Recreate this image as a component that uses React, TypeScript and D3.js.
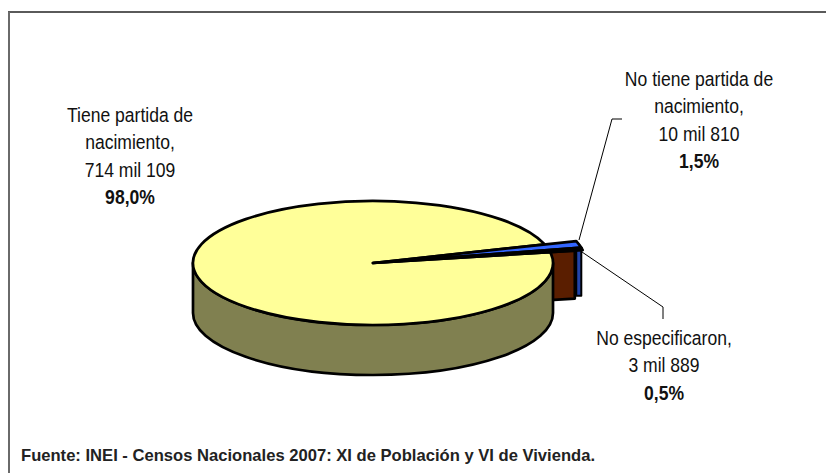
import React from 'react';
import * as d3 from 'd3';

const categories = ['No tiene partida de nacimiento', 'No especificaron', 'Tiene partida de nacimiento'];
const values = [10810, 3889, 714109];
const colors = ['#3366ff', '#5a1e00', '#ffff99'];
const wallBlue = '#2244aa';
const wallYellow = '#808050';

const labelLines = [
  ['No tiene partida de', 'nacimiento,', '10 mil 810', '1,5%'],
  ['No especificaron,', '3 mil 889', '0,5%'],
  ['Tiene partida de', 'nacimiento,', '714 mil 109', '98,0%'],
];
const labelPos = [
  { x: 699, y: 86 },
  { x: 664, y: 345 },
  { x: 130, y: 122 },
];
const fuente = 'Fuente: INEI - Censos Nacionales 2007: XI de Población y VI de Vivienda.';

const cx = 373;
const cy = 263;
const rx = 180;
const rxSmall = 213;
const rxCut = 205;
const ry = 62;
const depth = 50;
const depthSmall = 48;
const tilt = ry / rx;
const startDeg = 72.6;
const lw = 2.7;

export default function App() {
  const pie = d3
    .pie<number>()
    .sort(null)
    .startAngle((startDeg * Math.PI) / 180)
    .endAngle(((startDeg + 360) * Math.PI) / 180);
  const arcs = pie(values);

  const arcSmall = d3.arc<d3.PieArcDatum<number>>().innerRadius(0).outerRadius(rxSmall);
  const arcBig = d3.arc<d3.PieArcDatum<number>>().innerRadius(0).outerRadius(rx);

  // point on the tilted ellipse, angle measured like d3 (0 = up, clockwise)
  const pt = (a: number, r: number) => [cx + r * Math.sin(a), cy - r * tilt * Math.cos(a)];

  const brownEnd = pt(arcs[1].endAngle, rxCut);
  const blueStart = pt(arcs[0].startAngle, rxSmall);
  const blueEnd = pt(arcs[0].endAngle, rxSmall);

  // radial cut of the small slices
  const cutPath = d3.path();
  cutPath.moveTo(cx, cy);
  cutPath.lineTo(brownEnd[0], brownEnd[1]);
  cutPath.lineTo(brownEnd[0], brownEnd[1] + depthSmall);
  cutPath.lineTo(cx, cy + depthSmall);
  cutPath.closePath();

  // outer wall of the blue slice
  const rimBottom = blueEnd[1] + depthSmall;
  const rimPath = d3.line()([
    [blueStart[0], blueStart[1]],
    [blueEnd[0], blueEnd[1]],
    [blueEnd[0], rimBottom],
    [blueStart[0], rimBottom],
  ] as [number, number][]) + 'Z';

  // front wall of the big slice
  const wall = `M${cx + rx},${cy}A${rx},${ry} 0 0 1 ${cx - rx},${cy}L${cx - rx},${cy + depth}A${rx},${ry} 0 0 0 ${cx + rx},${cy + depth}Z`;

  const topTransform = `translate(${cx},${cy}) scale(1,${tilt})`;

  return (
    <svg width={826} height={473} style={{ position: 'absolute', left: 0, top: 0, fontFamily: '"Liberation Sans", Arial, sans-serif' }}>
      <line x1={8} y1={12} x2={826} y2={12} stroke="#5a5a5a" strokeWidth={2} />
      <line x1={9} y1={12} x2={9} y2={473} stroke="#6a6a6a" strokeWidth={2} />

      <path d={cutPath.toString()} fill={colors[1]} stroke="#000" strokeWidth={lw} strokeLinejoin="round" />
      <path d={rimPath} fill={wallBlue} stroke="#000" strokeWidth={2} strokeLinejoin="round" />

      <path d={wall} fill={wallYellow} stroke="#000" strokeWidth={lw} strokeLinejoin="round" />
      <path
        d={arcBig(arcs[2]) as string}
        transform={topTransform}
        fill={colors[2]}
        stroke="#000"
        strokeWidth={lw}
        strokeLinejoin="round"
        vectorEffect="non-scaling-stroke"
      />
      {[0, 1].map((i) => (
        <path
          key={categories[i]}
          d={arcSmall(arcs[i]) as string}
          transform={topTransform}
          fill={colors[i]}
          stroke="#000"
          strokeWidth={lw}
          strokeLinejoin="round"
          vectorEffect="non-scaling-stroke"
        />
      ))}

      <polyline points="579,240 612,119 622,119" fill="none" stroke="#000" strokeWidth={1} />
      <polyline points="582,252 663,307 663,319" fill="none" stroke="#000" strokeWidth={1} />

      {labelLines.map((lines, i) => (
        <text key={categories[i]} transform={`translate(${labelPos[i].x},${labelPos[i].y}) scale(0.9,1)`} textAnchor="middle" fontSize={19.5} fill="#111">
          {lines.map((s, j) => (
            <tspan key={s} x={0} dy={j === 0 ? 0 : 27.4} fontWeight={j === lines.length - 1 ? 'bold' : 'normal'}>
              {s}
            </tspan>
          ))}
        </text>
      ))}

      <text x={21} y={461} fontSize={16.5} fontWeight="bold" fill="#222" textLength={574} lengthAdjust="spacingAndGlyphs">
        {fuente}
      </text>
    </svg>
  );
}
